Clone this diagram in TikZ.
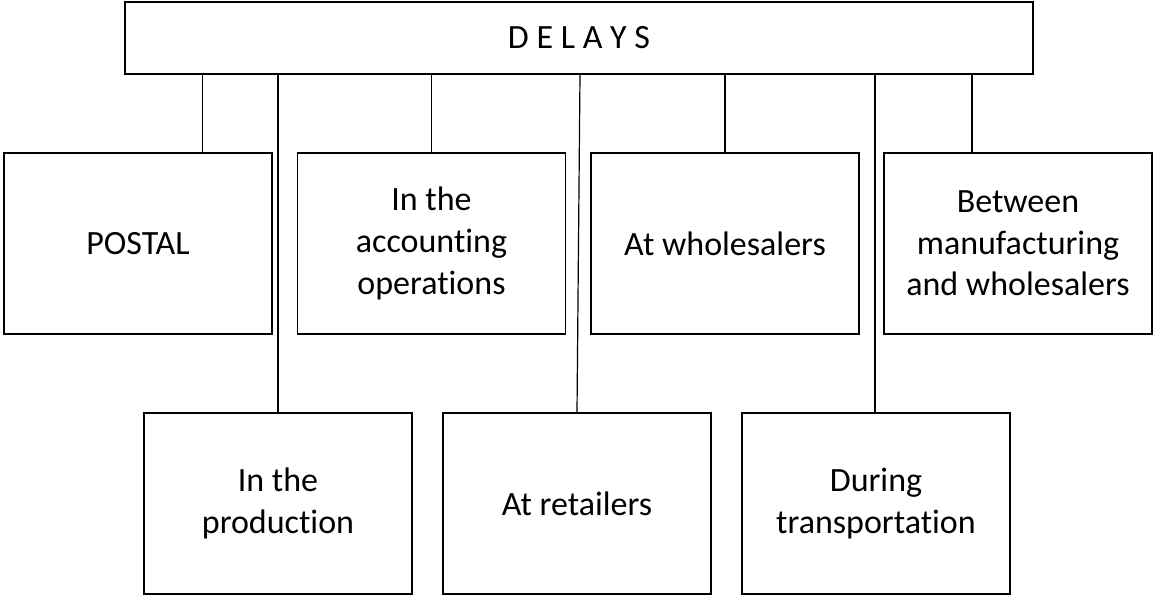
\documentclass[tikz,border=0pt]{standalone}
\usepackage{fontspec}
\setmainfont{Carlito}[Ligatures=NoCommon]
\usetikzlibrary{positioning}

\begin{document}
\begin{tikzpicture}[x=0.5pt, y=-0.5pt, font=\fontsize{17}{20.8}\selectfont,
                    box/.style={draw, line width=0.6pt, minimum width=134pt, minimum height=90.5pt, align=center, inner sep=0pt},
                    link/.style={line width=0.6pt}
                    ]
    \useasboundingbox (0,0) rectangle (1153,596);
    \node[draw, line width=0.6pt, minimum width=454pt, minimum height=36pt] at (579,38) (delays) {D E L A Y S};
    \node[box] at (138,243.5) (postal) {POSTAL};
    \node[box] at (431.5,243.5) (account) {In the\\accounting\\operations};
    \node[box] at (725,243.5) (wholesale) {At wholesalers};
    \node[box] at (1018,243.5) (between) {Between\\manufacturing\\and wholesalers};
    \node[box] at (278,503.5) (product) {In the\\production};
    \node[box] at (577,503.5) (retail) {At retailers};
    \node[box] at (876,503.5) (transport) {During\\transportation};
    \draw[link] ([xshift=32.25pt]postal.north |- delays.south) -- ([xshift=32.25pt]postal.north);
    \draw[link] (product.north |- delays.south) -- (product.north);
    \draw[link] (account.north |- delays.south) -- (account.north);
    \draw[link] ([xshift=1.5pt]retail.north |- delays.south) -- (retail.north);
    \draw[link] (wholesale.north |- delays.south) -- (wholesale.north);
    \draw[link] ([xshift=-0.5pt]transport.north |- delays.south) -- ([xshift=-0.5pt]transport.north);
    \draw[link] ([xshift=-23pt]between.north |- delays.south) -- ([xshift=-23pt]between.north);
\end{tikzpicture}
\end{document}
